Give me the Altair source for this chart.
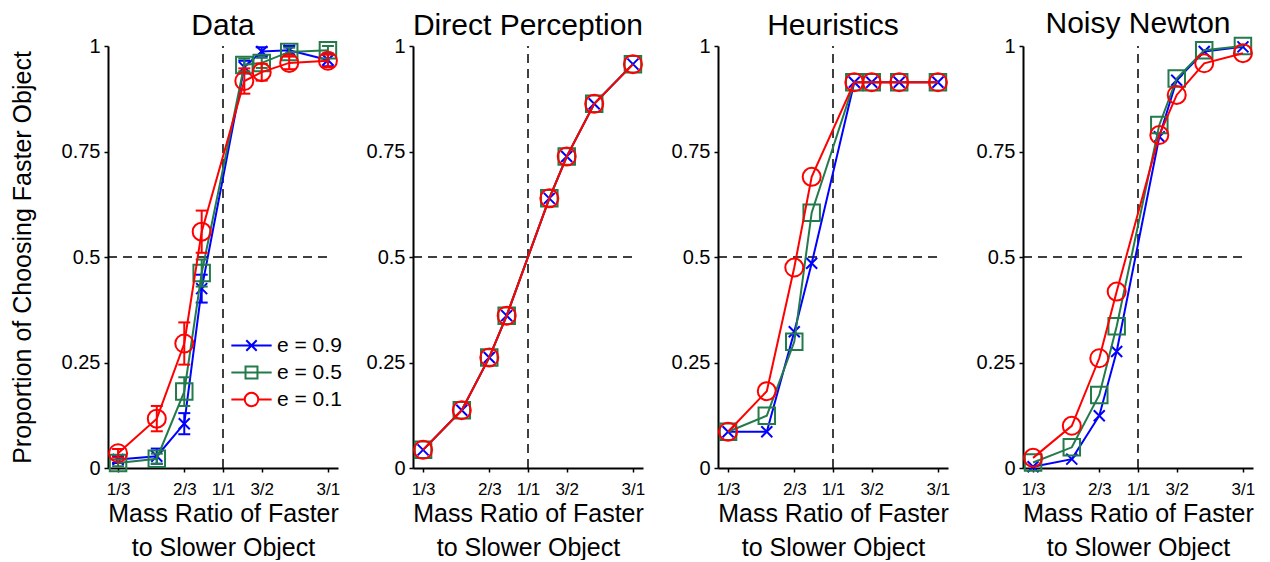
import math
import altair as alt
import pandas as pd

FONT = "Liberation Sans"

PANEL_TITLES = ["Data", "Direct Perception", "Heuristics", "Noisy Newton"]
SERIES = ["e = 0.9", "e = 0.5", "e = 0.1"]
COLORS = ["#0000ff", "#237a4b", "#ff0000"]

# mass ratios (faster / slower)
RATIOS = [1/3, 1/2, 2/3, 4/5, 5/4, 3/2, 2, 3]

# ---- Data panel (with error bars) ----
DATA_E09 = [0.020, 0.028, 0.105, 0.425, 0.950, 0.987, 0.990, 0.967]
DATA_E05 = [0.012, 0.022, 0.181, 0.462, 0.955, 0.960, 0.986, 0.990]
DATA_E01 = [0.035, 0.117, 0.295, 0.560, 0.917, 0.938, 0.960, 0.965]
ERR_E09 = [0.008, 0.018, 0.025, 0.033, 0.015, 0.010, 0.010, 0.015]
ERR_E05 = [0.008, 0.012, 0.034, 0.032, 0.015, 0.012, 0.010, 0.010]
ERR_E01 = [0.010, 0.030, 0.050, 0.050, 0.030, 0.020, 0.015, 0.015]

# ---- Direct Perception (identical for all e) ----
DP_E09 = [0.043, 0.137, 0.262, 0.361, 0.639, 0.738, 0.863, 0.957]
DP_E05 = [0.043, 0.137, 0.262, 0.361, 0.639, 0.738, 0.863, 0.957]
DP_E01 = [0.043, 0.137, 0.262, 0.361, 0.639, 0.738, 0.863, 0.957]

# ---- Heuristics ----
HE_E09 = [0.086, 0.086, 0.323, 0.485, 0.914, 0.914, 0.914, 0.914]
HE_E05 = [0.086, 0.124, 0.299, 0.605, 0.914, 0.914, 0.914, 0.914]
HE_E01 = [0.086, 0.182, 0.475, 0.690, 0.914, 0.914, 0.914, 0.914]

# ---- Noisy Newton ----
NN_E09 = [0.003, 0.021, 0.124, 0.276, 0.785, 0.919, 0.987, 0.998]
NN_E05 = [0.013, 0.049, 0.173, 0.336, 0.813, 0.923, 0.990, 1.000]
NN_E01 = [0.024, 0.100, 0.260, 0.418, 0.789, 0.884, 0.959, 0.983]

TICK_VALUES = [1/3, 2/3, 1, 3/2, 3]
TICK_LABELS = ["1/3", "2/3", "1/1", "3/2", "3/1"]
Y_TICKS = [0, 0.25, 0.5, 0.75, 1]
X_DOMAIN = [0.3, 10/3]

PANEL_VALUES = {
    "Data": [DATA_E09, DATA_E05, DATA_E01],
    "Direct Perception": [DP_E09, DP_E05, DP_E01],
    "Heuristics": [HE_E09, HE_E05, HE_E01],
    "Noisy Newton": [NN_E09, NN_E05, NN_E01],
}
DATA_ERRS = [ERR_E09, ERR_E05, ERR_E01]

rows = []
for panel, series_vals in PANEL_VALUES.items():
    for si, vals in enumerate(series_vals):
        for k, (r, v) in enumerate(zip(RATIOS, vals)):
            e = DATA_ERRS[si][k] if panel == "Data" else 0.0
            rows.append({"panel": panel, "series": SERIES[si], "ratio": r,
                         "p": v, "lo": v - e, "hi": v + e})
df = pd.DataFrame(rows)

ref_v = pd.DataFrame({"ratio": [1.0], "p": [0.0], "p2": [1.0]})
ref_h = pd.DataFrame({"ratio": [0.3], "ratio2": [3.0], "p": [0.5]})

# label expression for log axis ticks
parts = []
for i in range(len(TICK_VALUES) - 1):
    mid = math.sqrt(TICK_VALUES[i] * TICK_VALUES[i + 1])
    parts.append(f"datum.value < {mid:.6f} ? '{TICK_LABELS[i]}' : ")
label_expr = "".join(parts) + f"'{TICK_LABELS[-1]}'"

X_PATH = "M-1,-1L1,1M-1,1L1,-1"
MARK_SHAPES = [X_PATH, "square", "circle"]
MARK_SIZES = [121, 272, 324]

LEG_PATHS = [
    "M-3.1,0L3.1,0M-0.8,-0.8L0.8,0.8M-0.8,0.8L0.8,-0.8",
    "M-3.1,0L3.1,0M-0.92,-0.92L0.92,-0.92L0.92,0.92L-0.92,0.92Z",
    "M-3.1,0L-1.04,0M1.04,0L3.1,0M1.04,0A1.04,1.04,0,1,1,-1.04,0A1.04,1.04,0,1,1,1.04,0Z",
]

W, H = 230, 422


def make_panel(idx, title):
    d = df[df.panel == title]
    xscale = alt.Scale(type="log", domain=X_DOMAIN, nice=False)
    yscale = alt.Scale(domain=[0, 1], nice=False)
    xaxis = alt.Axis(values=TICK_VALUES, labelExpr=label_expr,
                     title=["Mass Ratio of Faster", "to Slower Object"])
    if idx == 0:
        yaxis = alt.Axis(values=Y_TICKS, format=".2~f",
                         title="Proportion of Choosing Faster Object")
    else:
        yaxis = alt.Axis(values=Y_TICKS, format=".2~f", title=None)
    x = alt.X("ratio:Q", scale=xscale, axis=xaxis)
    y = alt.Y("p:Q", scale=yscale, axis=yaxis)

    layers = []
    layers.append(alt.Chart(ref_v).mark_rule(color="black", strokeWidth=1.5,
                                             strokeDash=[9, 6]).encode(
        x=x, y=y, y2="p2:Q"))
    layers.append(alt.Chart(ref_h).mark_rule(color="black", strokeWidth=1.5,
                                             strokeDash=[9, 6]).encode(
        x=x, x2="ratio2:Q", y=y))

    for si, s in enumerate(SERIES):
        ds = d[d.series == s]
        base = alt.Chart(ds)
        layers.append(base.mark_line(color=COLORS[si], strokeWidth=2).encode(x=x, y=y))
        if title == "Data":
            layers.append(base.mark_rule(color=COLORS[si], strokeWidth=2).encode(
                x=x, y=alt.Y("lo:Q", scale=yscale), y2="hi:Q"))
            for fld in ["lo", "hi"]:
                layers.append(base.mark_tick(color=COLORS[si], orient="horizontal",
                                             size=12, thickness=2, opacity=1).encode(
                    x=x, y=alt.Y(f"{fld}:Q", scale=yscale)))
        layers.append(base.mark_point(shape=MARK_SHAPES[si], size=MARK_SIZES[si],
                                      color=COLORS[si], filled=False, strokeWidth=2,
                                      opacity=1).encode(x=x, y=y))

    if title == "Data":
        leg = alt.Legend(orient="none", legendX=133, legendY=289, title=None,
                         labelFont=FONT, labelFontSize=21, labelColor="black",
                         symbolSize=169, symbolStrokeWidth=2, symbolOpacity=1,
                         labelOffset=15, rowPadding=5, padding=0)
        layers.append(alt.Chart(d).mark_point(filled=False, opacity=0).encode(
            x=x, y=y,
            color=alt.Color("series:N", scale=alt.Scale(domain=SERIES, range=COLORS),
                            legend=leg),
            shape=alt.Shape("series:N", scale=alt.Scale(domain=SERIES, range=LEG_PATHS),
                            legend=leg),
        ))

    return alt.layer(*layers).properties(
        width=W, height=H,
        title=alt.TitleParams(title, fontSize=30, font=FONT, fontWeight="normal",
                              color="black", offset=-9, dy=-4),
    )


panels = [make_panel(i, t) for i, t in enumerate(PANEL_TITLES)]

chart = alt.hconcat(*panels, spacing=75, bounds="flush").resolve_legend(
    color="independent", shape="independent"
).properties(
    padding={"left": 2, "top": 0, "right": 2, "bottom": 0}
).configure_view(stroke=None).configure_axis(
    grid=False, domainColor="black", domainWidth=2, tickColor="black",
    tickWidth=1.5, tickSize=4, labelColor="black", titleColor="black",
    labelFont=FONT, titleFont=FONT, titleFontWeight="normal",
).configure_axisY(
    labelFontSize=20, titleFontSize=25, labelPadding=4, titlePadding=26,
).configure_axisX(
    labelFontSize=17, titleFontSize=25, labelPadding=9, titlePadding=4,
    titleLineHeight=34,
)

chart.save("out.html", embed_options={"renderer": "svg", "actions": False})
